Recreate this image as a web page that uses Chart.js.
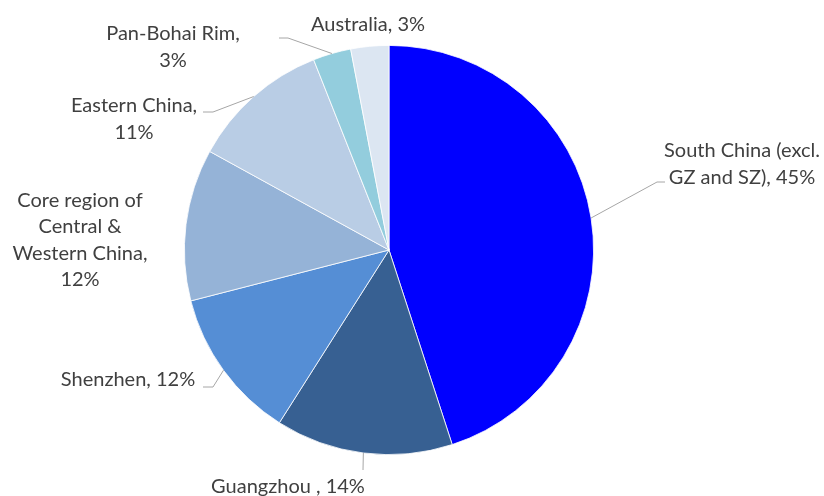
<!DOCTYPE html>
<html>
<head>
<meta charset="utf-8">
<script src="https://cdn.jsdelivr.net/npm/chart.js@4"></script>
<style>
  html, body { margin: 0; padding: 0; background: #fff; }
  #chart { display: block; }
</style>
</head>
<body>
<canvas id="chart" width="824" height="496"></canvas>
<script>
// --- data ---
const regions = [
  "South China (excl. GZ and SZ)",
  "Guangzhou ",
  "Shenzhen",
  "Core region of Central & Western China",
  "Eastern China",
  "Pan-Bohai Rim",
  "Australia",
];
const shares = [45, 14, 12, 12, 11, 3, 3];
const sliceColors = ["#0000FF", "#376092", "#558ED5", "#95B3D7", "#B9CDE5", "#93CDDD", "#DCE6F2"];

// --- label layout (center of text block, wrap width, leader elbow) ---
const labelLayout = [
  { x: 742, y: 164, wrap: 172, elbow: [657, 182], end: [665, 182] },
  { x: 288, y: 487, wrap: 400, elbow: [363, 470], end: null },
  { x: 128, y: 380, wrap: 400, elbow: [213, 387], end: [203, 387] },
  { x: 80, y: 240, wrap: 148, elbow: null, end: null },
  { x: 134, y: 119, wrap: 148, elbow: [213, 112], end: [203, 112] },
  { x: 173, y: 47, wrap: 148, elbow: [288, 38], end: [279, 38] },
  { x: 368, y: 25, wrap: 400, elbow: null, end: null },
];

const FONT = '20px Lato, "Open Sans", sans-serif';
const LINE_H = 26.5;

function wrapText(ctx, text, maxW) {
  const words = text.split(" ");
  const lines = [];
  let cur = "";
  for (const w of words) {
    const test = cur ? cur + " " + w : w;
    if (cur && ctx.measureText(test).width > maxW) {
      lines.push(cur);
      cur = w;
    } else {
      cur = test;
    }
  }
  if (cur) lines.push(cur);
  return lines;
}

const pieLabels = {
  id: "pieLabels",
  afterDraw(chart) {
    const ctx = chart.ctx;
    const meta = chart.getDatasetMeta(0);
    ctx.save();
    ctx.strokeStyle = "#A6A6A6";
    ctx.lineWidth = 1;
    meta.data.forEach((arc, i) => {
      const p = arc.getProps(["x", "y", "startAngle", "endAngle", "outerRadius"], true);
      const mid = (p.startAngle + p.endAngle) / 2;
      const ex = p.x + Math.cos(mid) * p.outerRadius;
      const ey = p.y + Math.sin(mid) * p.outerRadius;
      const lay = labelLayout[i];
      if (lay.elbow) {
        ctx.beginPath();
        ctx.moveTo(ex, ey);
        ctx.lineTo(lay.elbow[0], lay.elbow[1]);
        if (lay.end) ctx.lineTo(lay.end[0], lay.end[1]);
        ctx.stroke();
      }
    });

    ctx.font = FONT;
    ctx.fillStyle = "#404040";
    ctx.textAlign = "center";
    ctx.textBaseline = "middle";
    regions.forEach((name, i) => {
      const lay = labelLayout[i];
      const text = name + ", " + shares[i] + "%";
      const lines = wrapText(ctx, text, lay.wrap);
      const top = lay.y - ((lines.length - 1) * LINE_H) / 2;
      lines.forEach((ln, k) => ctx.fillText(ln, lay.x, top + k * LINE_H));
    });
    ctx.restore();
  },
};

new Chart(document.getElementById("chart"), {
  type: "pie",
  data: {
    labels: regions,
    datasets: [{
      data: shares,
      backgroundColor: sliceColors,
      borderColor: "#FFFFFF",
      borderWidth: 0.8,
    }],
  },
  options: {
    responsive: false,
    animation: false,
    layout: { padding: { top: 45, bottom: 41, left: 184, right: 230 } },
    plugins: { legend: { display: false }, tooltip: { enabled: false } },
  },
  plugins: [pieLabels],
});
</script>
</body>
</html>
